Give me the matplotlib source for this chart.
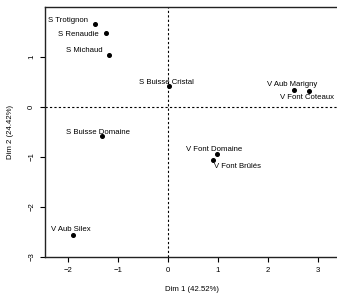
import matplotlib
matplotlib.use("Agg")
import matplotlib.pyplot as plt

plt.rcParams['font.family'] = ['Liberation Sans', 'DejaVu Sans']

# individuals factor map (PCA) - coordinates
names = ["S Trotignon", "S Renaudie", "S Michaud", "S Buisse Cristal",
         "S Buisse Domaine", "V Aub Silex", "V Aub Marigny",
         "V Font Coteaux", "V Font Domaine", "V Font Brûlés"]
dim1 = [-1.46, -1.25, -1.18, 0.01, -1.33, -1.91, 2.52, 2.81, 0.97, 0.89]
dim2 = [1.66, 1.47, 1.04, 0.41, -0.59, -2.56, 0.34, 0.31, -0.95, -1.07]

xticks = [-2, -1, 0, 1, 2, 3]
yticks = [-3, -2, -1, 0, 1]

# label placement relative to the point (pixels)
label_offsets = [(-27, 4), (-27, -1), (-25, 4), (-2, 4), (-3, 4),
                 (-2, 5), (-2, 5), (-2, -6), (-2, 5), (25, -6)]

fig = plt.figure(figsize=(3.37, 2.96), dpi=100)
ax = fig.add_axes([45 / 337, 39 / 296, 294 / 337, 250 / 296])

ax.axhline(0, color='black', lw=0.8, ls=(0, (2, 2)))
ax.axvline(0, color='black', lw=0.8, ls=(0, (2, 2)))

ax.plot(dim1, dim2, 'o', color='black', ms=2.6, ls='none')

for name, x, y, off in zip(names, dim1, dim2, label_offsets):
    ax.annotate(name, (x, y), xytext=off, textcoords='offset pixels',
                ha='center', va='center', fontsize=5.6)

ax.set_xlim(-2.46, 3.42)
ax.set_ylim(-3, 2)
ax.set_xticks(xticks)
ax.set_yticks(yticks)
ax.tick_params(labelsize=5.6, length=3.6, width=0.8, pad=3.5)
for lab in ax.get_yticklabels():
    lab.set_rotation(90)
    lab.set_va('center')

for sp in ax.spines.values():
    sp.set_color('#222222')
    sp.set_linewidth(1.0)
ax.spines['right'].set_visible(False)

ax.set_xlabel("Dim 1 (42.52%)", fontsize=5.6, labelpad=9)
ax.set_ylabel("Dim 2 (24.42%)", fontsize=5.6, labelpad=10)

fig.savefig("out.png", dpi=100)
